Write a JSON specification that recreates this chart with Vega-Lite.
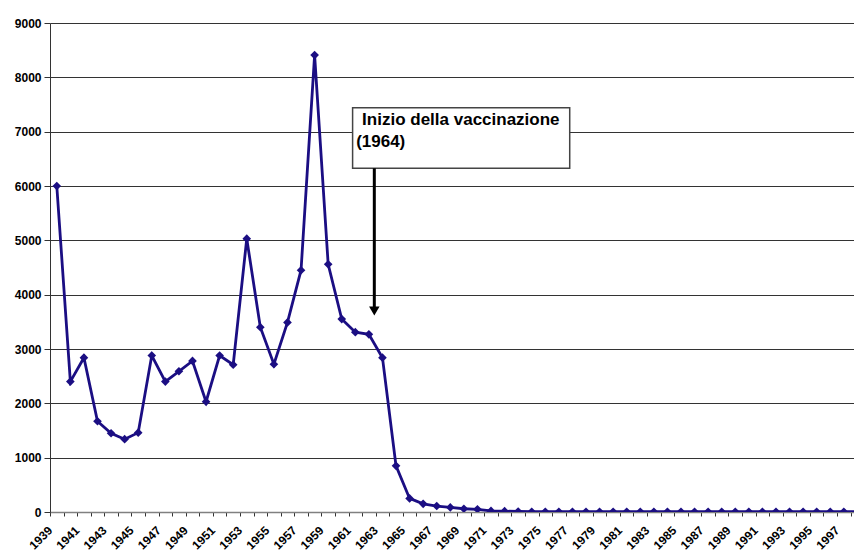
{
  "$schema": "https://vega.github.io/schema/vega-lite/v6.json",
  "width": 804,
  "height": 489,
  "autosize": {"type": "none"},
  "padding": {"left": 50, "top": 23, "right": 0, "bottom": 42},
  "background": "white",
  "config": {
    "view": {"stroke": null},
    "font": "Liberation Sans",
    "axis": {"labelFont": "Liberation Sans", "labelFontWeight": "bold", "labelFontSize": 12, "labelColor": "#000", "labelOverlap": false}
  },
  "resolve": {"axis": {"x": "independent"}},
  "datasets": {
    "cases": [
      {"year": 1939, "cases": 6000}, {"year": 1940, "cases": 2400}, {"year": 1941, "cases": 2840},
      {"year": 1942, "cases": 1670}, {"year": 1943, "cases": 1450}, {"year": 1944, "cases": 1340},
      {"year": 1945, "cases": 1460}, {"year": 1946, "cases": 2880}, {"year": 1947, "cases": 2400},
      {"year": 1948, "cases": 2590}, {"year": 1949, "cases": 2780}, {"year": 1950, "cases": 2030},
      {"year": 1951, "cases": 2880}, {"year": 1952, "cases": 2710}, {"year": 1953, "cases": 5030},
      {"year": 1954, "cases": 3400}, {"year": 1955, "cases": 2720}, {"year": 1956, "cases": 3490},
      {"year": 1957, "cases": 4450}, {"year": 1958, "cases": 8410}, {"year": 1959, "cases": 4560},
      {"year": 1960, "cases": 3550}, {"year": 1961, "cases": 3310}, {"year": 1962, "cases": 3270},
      {"year": 1963, "cases": 2840}, {"year": 1964, "cases": 850}, {"year": 1965, "cases": 250},
      {"year": 1966, "cases": 150}, {"year": 1967, "cases": 110}, {"year": 1968, "cases": 85},
      {"year": 1969, "cases": 60}, {"year": 1970, "cases": 50}, {"year": 1971, "cases": 20},
      {"year": 1972, "cases": 15}, {"year": 1973, "cases": 10}, {"year": 1974, "cases": 5},
      {"year": 1975, "cases": 5}, {"year": 1976, "cases": 5}, {"year": 1977, "cases": 5},
      {"year": 1978, "cases": 5}, {"year": 1979, "cases": 5}, {"year": 1980, "cases": 5},
      {"year": 1981, "cases": 5}, {"year": 1982, "cases": 5}, {"year": 1983, "cases": 5},
      {"year": 1984, "cases": 5}, {"year": 1985, "cases": 5}, {"year": 1986, "cases": 5},
      {"year": 1987, "cases": 5}, {"year": 1988, "cases": 5}, {"year": 1989, "cases": 5},
      {"year": 1990, "cases": 5}, {"year": 1991, "cases": 5}, {"year": 1992, "cases": 5},
      {"year": 1993, "cases": 5}, {"year": 1994, "cases": 5}, {"year": 1995, "cases": 5},
      {"year": 1996, "cases": 5}, {"year": 1997, "cases": 5}, {"year": 1998, "cases": 5}
    ],
    "box": [{"x1": 1960.8, "x2": 1976.8, "y1": 6326, "y2": 7441}],
    "labels": [
      {"x": 1961.5, "y": 7215, "text": "Inizio della vaccinazione"},
      {"x": 1961.06, "y": 6816, "text": "(1964)"}
    ],
    "arrow": [{"x": 1962.4, "y1": 6326, "y2": 3700}]
  },
  "layer": [
    {
      "data": {"name": "cases"},
      "mark": {"type": "line", "color": "#1b0e83", "strokeWidth": 2.8, "clip": true},
      "encoding": {
        "x": {
          "field": "year", "type": "quantitative",
          "scale": {"domain": [1938.5, 1997.75], "nice": false, "zero": false},
          "axis": {
            "title": null,
            "orient": "bottom",
            "values": [1938.5,1939.5,1940.5,1941.5,1942.5,1943.5,1944.5,1945.5,1946.5,1947.5,1948.5,1949.5,1950.5,1951.5,1952.5,1953.5,1954.5,1955.5,1956.5,1957.5,1958.5,1959.5,1960.5,1961.5,1962.5,1963.5,1964.5,1965.5,1966.5,1967.5,1968.5,1969.5,1970.5,1971.5,1972.5,1973.5,1974.5,1975.5,1976.5,1977.5,1978.5,1979.5,1980.5,1981.5,1982.5,1983.5,1984.5,1985.5,1986.5,1987.5,1988.5,1989.5,1990.5,1991.5,1992.5,1993.5,1994.5,1995.5,1996.5,1997.5],
            "labels": false,
            "grid": false,
            "tickSize": 4,
            "tickColor": "#333",
            "domainColor": "#808080",
            "domainWidth": 1.5
          }
        },
        "y": {
          "field": "cases", "type": "quantitative",
          "scale": {"domain": [0, 9000], "nice": false},
          "axis": {
            "title": null,
            "values": [0,1000,2000,3000,4000,5000,6000,7000,8000,9000],
            "format": "d",
            "grid": true,
            "gridColor": "#333",
            "gridWidth": 1,
            "tickSize": 6,
            "tickColor": "#333",
            "labelPadding": 3,
            "domainColor": "#333",
            "domainWidth": 1
          }
        }
      }
    },
    {
      "data": {"name": "cases"},
      "mark": {"type": "point", "shape": "diamond", "filled": true, "size": 75, "color": "#1b0e83", "opacity": 1, "clip": true},
      "encoding": {
        "x": {
          "field": "year", "type": "quantitative",
          "axis": {
            "title": null,
            "orient": "bottom",
            "values": [1939,1941,1943,1945,1947,1949,1951,1953,1955,1957,1959,1961,1963,1965,1967,1969,1971,1973,1975,1977,1979,1981,1983,1985,1987,1989,1991,1993,1995,1997],
            "format": "d",
            "labelOverlap": false,
            "labelAngle": -45,
            "labelAlign": "right",
            "labelBaseline": "middle",
            "labelOffset": -7,
            "labelPadding": 16,
            "labelBound": false,
            "labelFlush": false,
            "ticks": false,
            "domain": false,
            "grid": false
          }
        },
        "y": {"field": "cases", "type": "quantitative"}
      }
    },
    {
      "data": {"name": "box"},
      "mark": {"type": "rect", "fill": "white", "stroke": "#444", "strokeWidth": 1.5},
      "encoding": {
        "x": {"field": "x1", "type": "quantitative", "axis": null},
        "x2": {"field": "x2"},
        "y": {"field": "y1", "type": "quantitative"},
        "y2": {"field": "y2"}
      }
    },
    {
      "data": {"name": "labels"},
      "mark": {"type": "text", "align": "left", "baseline": "middle", "font": "Liberation Sans", "fontWeight": "bold", "fontSize": 17, "color": "#000"},
      "encoding": {
        "x": {"field": "x", "type": "quantitative", "axis": null},
        "y": {"field": "y", "type": "quantitative"},
        "text": {"field": "text"}
      }
    },
    {
      "data": {"name": "arrow"},
      "mark": {"type": "rule", "color": "#000", "strokeWidth": 3},
      "encoding": {
        "x": {"field": "x", "type": "quantitative", "axis": null},
        "y": {"field": "y1", "type": "quantitative"},
        "y2": {"field": "y2"}
      }
    },
    {
      "data": {"name": "arrow"},
      "mark": {"type": "point", "shape": "triangle-down", "filled": true, "size": 110, "color": "#000", "opacity": 1},
      "encoding": {
        "x": {"field": "x", "type": "quantitative", "axis": null},
        "y": {"field": "y2", "type": "quantitative"}
      }
    }
  ]
}
